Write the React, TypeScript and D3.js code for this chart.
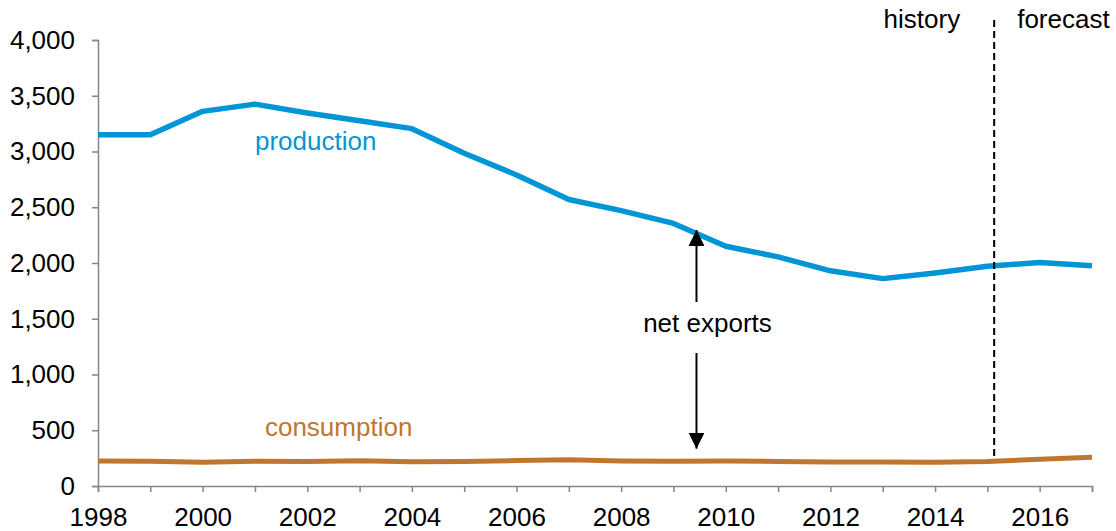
import React, { useRef, useEffect } from 'react';
import * as d3 from 'd3';

const years = [1998, 1999, 2000, 2001, 2002, 2003, 2004, 2005, 2006, 2007, 2008, 2009, 2010, 2011, 2012, 2013, 2014, 2015, 2016, 2017];
const production = [3150, 3150, 3360, 3425, 3345, 3275, 3205, 2985, 2790, 2570, 2470, 2355, 2150, 2055, 1930, 1860, 1910, 1970, 2005, 1975];
const consumption = [225, 222, 212, 222, 220, 226, 218, 220, 228, 235, 224, 222, 225, 220, 215, 215, 212, 220, 240, 258];
const yTicks = [0, 500, 1000, 1500, 2000, 2500, 3000, 3500, 4000];
const xLabelYears = [1998, 2000, 2002, 2004, 2006, 2008, 2010, 2012, 2014, 2016];
const forecastStart = 2015.13;

const blue = '#0096D6';
const brown = '#C0762E';
const font = '"Liberation Sans", Arial, sans-serif';

const App = () => {
  const svgRef = useRef<SVGSVGElement>(null);

  useEffect(() => {
    const width = 1116;
    const height = 531;
    const margin = { top: 40, right: 24, bottom: 45, left: 98 };

    const svg = d3.select(svgRef.current);
    svg.selectAll('*').remove();
    svg.attr('width', width).attr('height', height);

    const x = d3.scaleLinear().domain([1998, 2017]).range([margin.left, width - margin.right]);
    const y = d3.scaleLinear().domain([0, 4000]).range([height - margin.bottom, margin.top]);

    // Axes
    const yAxis = d3.axisLeft(y)
      .tickValues(yTicks)
      .tickSize(6)
      .tickPadding(17)
      .tickFormat(d3.format(','));
    const yg = svg.append('g').attr('transform', `translate(${margin.left},0)`).call(yAxis);
    yg.select('.domain').attr('stroke', '#868686').attr('stroke-width', 1.5);
    yg.selectAll('line').attr('stroke', '#868686').attr('stroke-width', 1.5);
    yg.selectAll('text').style('font-size', '26px').style('font-family', font).attr('fill', '#000');

    const xAxis = d3.axisBottom(x)
      .tickValues(years)
      .tickSize(6)
      .tickPadding(16)
      .tickFormat(d => (xLabelYears.includes(+d) ? String(d) : ''));
    const xg = svg.append('g').attr('transform', `translate(0,${y(0)})`).call(xAxis);
    xg.select('.domain').attr('stroke', '#868686').attr('stroke-width', 1.5);
    xg.selectAll('line').attr('stroke', '#868686').attr('stroke-width', 1.5);
    xg.selectAll('text').style('font-size', '26px').style('font-family', font).attr('fill', '#000');

    // Lines
    const line = d3.line<number>()
      .x((d, i) => x(years[i]))
      .y(d => y(d));

    svg.append('path')
      .datum(consumption)
      .attr('d', line)
      .attr('fill', 'none')
      .attr('stroke', brown)
      .attr('stroke-width', 5)
      .attr('stroke-linejoin', 'round');

    svg.append('path')
      .datum(production)
      .attr('d', line)
      .attr('fill', 'none')
      .attr('stroke', blue)
      .attr('stroke-width', 5.5)
      .attr('stroke-linejoin', 'round');

    // History / forecast divider
    svg.append('line')
      .attr('x1', x(forecastStart)).attr('x2', x(forecastStart))
      .attr('y1', 20).attr('y2', y(consumption[17]) - 2)
      .attr('stroke', '#000')
      .attr('stroke-width', 2)
      .attr('stroke-dasharray', '7,4');

    svg.append('text')
      .attr('x', x(forecastStart) - 34).attr('y', 28)
      .attr('text-anchor', 'end')
      .style('font-family', font).style('font-size', '26px')
      .text('history');
    svg.append('text')
      .attr('x', x(forecastStart) + 23).attr('y', 28)
      .attr('text-anchor', 'start')
      .style('font-family', font).style('font-size', '26px')
      .text('forecast');

    // Series labels
    svg.append('text')
      .attr('x', x(2002.16)).attr('y', 150)
      .attr('text-anchor', 'middle')
      .attr('fill', blue)
      .style('font-family', font).style('font-size', '26px')
      .text('production');
    svg.append('text')
      .attr('x', x(2002.6)).attr('y', 436)
      .attr('text-anchor', 'middle')
      .attr('fill', brown)
      .style('font-family', font).style('font-size', '26px')
      .text('consumption');

    // Net exports arrows
    const ax = x(2009.44);
    const defs = svg.append('defs');
    defs.append('marker')
      .attr('id', 'arrowhead')
      .attr('viewBox', '0 0 10 10')
      .attr('refX', 10).attr('refY', 5)
      .attr('markerWidth', 16).attr('markerHeight', 16)
      .attr('markerUnits', 'userSpaceOnUse')
      .attr('orient', 'auto')
      .append('path')
      .attr('d', 'M0,0 L10,5 L0,10 Z')
      .attr('fill', '#000');

    svg.append('line')
      .attr('x1', ax).attr('x2', ax)
      .attr('y1', 302).attr('y2', y(2295))
      .attr('stroke', '#000').attr('stroke-width', 2)
      .attr('marker-end', 'url(#arrowhead)');
    svg.append('line')
      .attr('x1', ax).attr('x2', ax)
      .attr('y1', 353).attr('y2', y(335))
      .attr('stroke', '#000').attr('stroke-width', 2)
      .attr('marker-end', 'url(#arrowhead)');

    svg.append('text')
      .attr('x', x(2009.65)).attr('y', 332)
      .attr('text-anchor', 'middle')
      .style('font-family', font).style('font-size', '26px')
      .text('net exports');
  }, []);

  return (
    <div style={{ position: 'absolute', left: 0, top: 0 }}>
      <svg ref={svgRef} style={{ display: 'block' }} />
    </div>
  );
};

export default App;
